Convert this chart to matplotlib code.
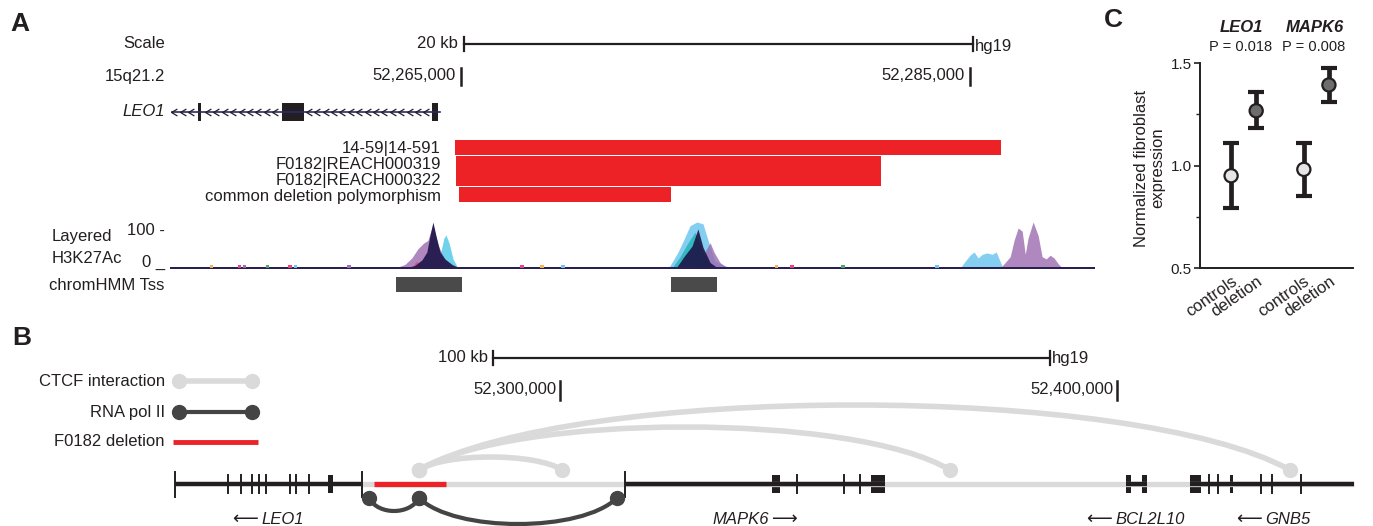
import matplotlib
matplotlib.use("Agg")
import numpy as np
import matplotlib.pyplot as plt
from matplotlib.path import Path
from matplotlib.patches import PathPatch, Rectangle
from matplotlib.lines import Line2D

plt.rcParams['font.family'] = ['Liberation Sans', 'DejaVu Sans']

# ---------------- data (positions in kb, hg19 chr15) ----------------
# panel A
a_view = (52253.57, 52289.91)
a_ticks = [52265, 52285]
a_tick_labels = ["52,265,000", "52,285,000"]
a_scale_start = 52265.12
leo1_span_a = (52253.64, 52264.18)
leo1_exons_a = [(52254.67, 52254.79), (52257.97, 52258.83), (52263.86, 52264.10)]
del_names = ["14-59|14-591", "F0182|REACH000319", "F0182|REACH000322",
             "common deletion polymorphism"]
del_start = [52264.76, 52264.80, 52264.80, 52264.92]
del_end = [52286.22, 52281.50, 52281.50, 52273.25]
tss_start = [52262.45, 52273.25]
tss_end = [52265.04, 52275.06]

# H3K27Ac layers (position kb, signal 0-100)
lblue_pos = [52272.98, 52273.21, 52273.53, 52273.76, 52274.00, 52274.27, 52274.51,
             52274.71, 52274.98, 52275.38, 52275.69,
             52284.61, 52284.81, 52285.00, 52285.16, 52285.32, 52285.48, 52285.67,
             52285.87, 52286.03, 52286.18, 52286.30]
lblue_val = [0, 5, 35, 62, 92, 100, 96, 60, 15, 5, 0,
             0, 15, 28, 35, 22, 30, 33, 30, 35, 15, 0]
cyan_pos = [52264.06, 52264.21, 52264.33, 52264.41, 52264.53, 52264.69, 52264.88]
cyan_val = [0, 35, 65, 72, 55, 20, 0]
purple_pos = [52262.41, 52262.80, 52263.07, 52263.31, 52263.55, 52263.70, 52263.90,
              52264.10, 52264.37, 52264.76,
              52274.39, 52274.63, 52274.79, 52274.94, 52275.18, 52275.49,
              52286.18, 52286.38, 52286.58, 52286.73, 52286.89, 52287.05, 52287.17,
              52287.28, 52287.48, 52287.68, 52287.83, 52287.99, 52288.15, 52288.30,
              52288.46, 52288.62]
purple_val = [0, 8, 22, 42, 55, 60, 95, 50, 18, 0,
              0, 40, 55, 35, 12, 0,
              0, 12, 25, 60, 87, 80, 30, 65, 100, 70, 25, 20, 28, 22, 10, 0]
teal_pos = [52273.29, 52273.61, 52273.92, 52274.20, 52274.47, 52274.79]
teal_val = [0, 25, 55, 78, 40, 0]
pink_pos = [52263.07, 52263.23, 52263.39, 52263.55]
pink_val = [0, 14, 12, 0]
navy_pos = [52262.80, 52263.19, 52263.47, 52263.66, 52263.78, 52263.90, 52264.02,
            52264.18, 52264.37, 52264.65, 52264.96,
            52273.45, 52273.76, 52274.08, 52274.31, 52274.51, 52274.79, 52275.10]
navy_val = [0, 6, 18, 35, 70, 100, 70, 35, 20, 8, 0,
            0, 25, 48, 85, 45, 12, 0]
speck_pos = [52255.2, 52256.3, 52256.5, 52257.4, 52258.3, 52258.5, 52260.6,
             52267.4, 52268.2, 52269.0, 52277.4, 52278.0, 52280.0, 52283.7, 52292.0]
speck_col = ['#f2b35a', '#e8457a', '#9d6eb3', '#4fa36b', '#e8457a', '#6ec6f0', '#9d6eb3',
             '#e8457a', '#f2b35a', '#6ec6f0', '#f2b35a', '#e8457a', '#4fa36b', '#6ec6f0', '#9d6eb3']

# panel B
b_view = (52229.98, 52445.96)
b_ticks = [52300, 52400]
b_tick_labels = ["52,300,000", "52,400,000"]
b_scale_start = 52287.97
gene_names = ["LEO1", "MAPK6", "BCL2L10", "GNB5"]
gene_start = [52230.88, 52311.67, 52401.61, 52413.10]
gene_end = [52264.27, 52358.35, 52405.38, 52442.55]
gene_ends_ticks = [52230.88, 52264.45, 52311.67]
thin_exons = [52240.31, 52242.65, 52244.63, 52245.88, 52247.22, 52251.53, 52252.60, 52254.94,
              52342.46, 52350.90, 52353.81,
              52416.43, 52418.13, 52425.85, 52427.83, 52433.03]
thick_exons = [(52258.35, 52259.25), (52338.06, 52339.50), (52355.83, 52358.35),
               (52401.61, 52402.51), (52404.48, 52405.38),
               (52413.10, 52415.08), (52420.29, 52420.83)]
deletion_b = (52266.61, 52279.53)
ctcf_pairs = [(52274.69, 52300.36), (52274.69, 52370.02), (52274.69, 52431.06)]
ctcf_h = [13, 43, 65]
pol2_pairs = [(52265.71, 52274.69), (52274.69, 52310.23)]
pol2_h = [13, 26]

# panel C
c_groups = ["controls", "deletion", "controls", "deletion"]
c_mean = np.array([0.95, 1.267, 0.981, 1.393])
c_low = np.array([0.794, 1.181, 0.853, 1.311])
c_high = np.array([1.108, 1.357, 1.108, 1.474])
c_face = ['#e6e6e6', '#6d6d6d', '#e6e6e6', '#6d6d6d']

RED = '#ec2227'
INK = '#231f20'
LIGHT = '#dadada'
DARK = '#444444'

W, H = 1373, 526
fig = plt.figure(figsize=(W / 100, H / 100), dpi=100)


def box(x0, y0, x1, y1):
    ax = fig.add_axes([x0 / W, 1 - y1 / H, (x1 - x0) / W, (y1 - y0) / H])
    ax.set_axis_off()
    return ax


def label(x, y, s, **kw):
    kw.setdefault('fontsize', 12)
    kw.setdefault('color', INK)
    fig.text(x / W, 1 - y / H, s, **kw)


panel_kw = dict(fontsize=19, fontweight='bold', va='center',
                family=['Liberation Sans Narrow', 'Liberation Sans'])

# ---------------- panel A ----------------
label(10, 24, "A", **panel_kw)
ax_a = box(170, 30, 1095, 300)
ax_a.set_xlim(*a_view)
ax_a.set_ylim(300, 30)

label(165, 44, "Scale", ha='right', va='center')
label(458, 44, "20 kb", ha='right', va='center')
label(975, 47, "hg19", ha='left', va='center')
ax_a.plot([a_scale_start, a_scale_start + 20], [44, 44], color=INK, lw=1.6)
for s in [a_scale_start, a_scale_start + 20]:
    ax_a.plot([s, s], [37, 51], color=INK, lw=1.6)

label(165, 76, "15q21.2", ha='right', va='center')
for t, tl in zip(a_ticks, a_tick_labels):
    ax_a.plot([t, t], [68, 85], color=INK, lw=1.8)
    ax_a.text(t - 0.2, 76, tl, ha='right', va='center', fontsize=12, color=INK)

label(165, 112, "LEO1", ha='right', va='center', style='italic')
ax_a.plot(leo1_span_a, [112, 112], color='#2b2a6b', lw=1.2)
chev = Path([(0.5, 0.6), (-0.5, 0.0), (0.5, -0.6)])
cx = np.arange(leo1_span_a[0] + 0.1, leo1_exons_a[2][0] - 0.1, 0.33)
cx = cx[(cx < leo1_exons_a[0][0] - 0.1) | (cx > leo1_exons_a[0][1] + 0.1)]
cx = cx[(cx < leo1_exons_a[1][0] - 0.1) | (cx > leo1_exons_a[1][1] + 0.1)]
ax_a.plot(cx, np.full(len(cx), 112), ls='none', marker=chev, ms=5,
          mfc='none', mec=INK, mew=0.9)
for s, e in leo1_exons_a:
    ax_a.add_patch(Rectangle((s, 103), e - s, 18, color=INK, lw=0))

row_top = [140, 156, 171, 187]
row_lab = [148, 164, 180, 197]
for name, s, e, yt, yl in zip(del_names, del_start, del_end, row_top, row_lab):
    ax_a.add_patch(Rectangle((s, yt), e - s, 15, color=RED, lw=0))
    label(441, yl, name, ha='right', va='center')

for s, e in zip(tss_start, tss_end):
    ax_a.add_patch(Rectangle((s, 277), e - s, 15, color='#4a4a4a', lw=0))
label(164, 285, "chromHMM Tss", ha='right', va='center')

# H3K27Ac
ax_s = box(170, 222, 1095, 270)
ax_s.set_xlim(*a_view)
ax_s.set_ylim(-4, 100)
ax_s.fill_between(lblue_pos, 0, lblue_val, color='#6ec6f0', alpha=0.85, lw=0)
ax_s.fill_between(cyan_pos, 0, cyan_val, color='#5fcdea', alpha=0.9, lw=0)
ax_s.fill_between(purple_pos, 0, purple_val, color='#9a6aae', alpha=0.8, lw=0)
ax_s.fill_between(teal_pos, 0, teal_val, color='#1fb3b5', alpha=0.8, lw=0)
ax_s.fill_between(pink_pos, 0, pink_val, color='#e8457a', alpha=0.8, lw=0)
ax_s.fill_between(navy_pos, 0, navy_val, color='#1c1446', alpha=0.9, lw=0)
ax_s.fill_between(a_view, -2.5, 3.5, color='#2a2050', lw=0)
ax_s.bar(speck_pos, 5, bottom=1, width=0.15, color=speck_col, lw=0)
label(52, 237, "Layered", ha='left', va='center')
label(52, 259, "H3K27Ac", ha='left', va='center')
label(165, 230, "100 -", ha='right', va='center')
label(165, 262, "0 _", ha='right', va='center')

# ---------------- panel B ----------------
label(12, 338, "B", **panel_kw)
ax_b = box(170, 330, 1373, 526)
ax_b.set_xlim(*b_view)
ax_b.set_ylim(526, 330)

ax_b.plot([b_scale_start, b_scale_start + 100], [358, 358], color=INK, lw=1.6)
for s in [b_scale_start, b_scale_start + 100]:
    ax_b.plot([s, s], [351, 365], color=INK, lw=1.6)
label(488, 358, "100 kb", ha='right', va='center')
label(1052, 358, "hg19", ha='left', va='center')
for t, tl in zip(b_ticks, b_tick_labels):
    ax_b.plot([t, t], [381, 400], color=INK, lw=1.8)
    ax_b.text(t - 0.7, 390, tl, ha='right', va='center', fontsize=12, color=INK)

# legend
label(165, 381, "CTCF interaction", ha='right', va='center')
label(165, 412, "RNA pol II", ha='right', va='center')
label(165, 442, "F0182 deletion", ha='right', va='center')
fig.add_artist(Line2D([179 / W, 252 / W], [1 - 381 / H] * 2, color=LIGHT, lw=4,
                      marker='o', ms=10, solid_capstyle='butt'))
fig.add_artist(Line2D([179 / W, 252 / W], [1 - 412 / H] * 2, color=DARK, lw=3,
                      marker='o', ms=10, solid_capstyle='butt'))
fig.add_artist(Line2D([173 / W, 258 / W], [1 - 442 / H] * 2, color=RED, lw=3.5,
                      solid_capstyle='butt'))

Y0 = 484
ax_b.plot([gene_end[0], gene_end[-1]], [Y0, Y0], color=LIGHT, lw=3.8, solid_capstyle='butt')
for s, e in zip(gene_start, gene_end):
    ax_b.plot([s, e], [Y0, Y0], color=INK, lw=3.2, solid_capstyle='butt')
ax_b.plot(deletion_b, [Y0, Y0], color=RED, lw=3.8, solid_capstyle='butt')
for t in gene_ends_ticks:
    ax_b.plot([t, t], [472, 497], color=INK, lw=1.4)
for t in thin_exons:
    ax_b.plot([t, t], [475, 493], color=INK, lw=1.4)
for s, e in thick_exons:
    ax_b.add_patch(Rectangle((s, 475), e - s, 18, color=INK, lw=0))


def arc(ax, x1, x2, y0, h, up, color, lw):
    c = h / 0.75 * (-1 if up else 1)
    w = x2 - x1
    verts = [(x1, y0), (x1 + 0.18 * w, y0 + c), (x2 - 0.18 * w, y0 + c), (x2, y0)]
    codes = [Path.MOVETO, Path.CURVE4, Path.CURVE4, Path.CURVE4]
    ax.add_patch(PathPatch(Path(verts, codes), fc='none', ec=color, lw=lw,
                           capstyle='round'))


for (p1, p2), h in zip(ctcf_pairs, ctcf_h):
    arc(ax_b, p1, p2, 470, h, True, LIGHT, 4)
    ax_b.plot([p1, p2], [470, 470], ls='none', marker='o', ms=10, color=LIGHT)
for (p1, p2), h in zip(pol2_pairs, pol2_h):
    arc(ax_b, p1, p2, 498, h, False, DARK, 3)
    ax_b.plot([p1, p2], [498, 498], ls='none', marker='o', ms=10, color=DARK)

# gene labels
arrow_kw = dict(fontsize=13, family=['DejaVu Sans'], va='center', color=INK)
label(258, 519, "\u27f5", ha='right', **arrow_kw)
label(261, 519, gene_names[0], ha='left', va='center', style='italic')
label(769, 519, gene_names[1], ha='right', va='center', style='italic')
label(772, 519, "\u27f6", ha='left', **arrow_kw)
label(1112, 519, "\u27f5", ha='right', **arrow_kw)
label(1115, 519, gene_names[2], ha='left', va='center', style='italic')
label(1262, 519, "\u27f5", ha='right', **arrow_kw)
label(1265, 519, gene_names[3], ha='left', va='center', style='italic')

# ---------------- panel C ----------------
label(1104, 20, "C", **panel_kw)
ax_c = fig.add_axes([1200 / W, 1 - 268 / H, 153 / W, 205 / H])
xpos = [1, 2, 3.9, 4.9]
ax_c.errorbar(xpos, c_mean, yerr=[c_mean - c_low, c_high - c_mean], fmt='none',
              ecolor=INK, elinewidth=3.4, capsize=5.5, capthick=3)
ax_c.scatter(xpos, c_mean, s=90, c=c_face, edgecolors=INK, linewidths=1.6, zorder=3)
ax_c.set_xlim(-0.24, 5.86)
ax_c.set_ylim(0.5, 1.5)
ax_c.set_yticks([0.5, 1.0, 1.5])
ax_c.set_yticklabels(["0.5", "1.0", "1.5"])
ax_c.set_yticks([0.75, 1.25], minor=True)
ax_c.tick_params(axis='y', which='major', length=4, width=1.2, labelsize=11,
                 colors=INK, pad=2)
ax_c.tick_params(axis='y', which='minor', length=3, width=1.0, colors=INK)
ax_c.set_xticks(xpos)
ax_c.set_xticklabels(c_groups, rotation=35, ha='right', va='top',
                     rotation_mode='anchor', fontsize=12, color=INK)
ax_c.tick_params(axis='x', length=0, pad=4)
for sp in ['top', 'right']:
    ax_c.spines[sp].set_visible(False)
for sp in ['left', 'bottom']:
    ax_c.spines[sp].set_linewidth(1.4)
    ax_c.spines[sp].set_color(INK)

label(1241, 28, "LEO1", ha='center', va='center', fontweight='bold', style='italic')
label(1315, 28, "MAPK6", ha='center', va='center', fontweight='bold', style='italic')
label(1241, 47, "P = 0.018", ha='center', va='center', fontsize=10.5)
label(1314, 47, "P = 0.008", ha='center', va='center', fontsize=10.5)
label(1150, 168, "Normalized fibroblast\nexpression", ha='center', va='center',
      rotation=90, multialignment='center', linespacing=1.1)

fig.savefig("out.png", dpi=100)
